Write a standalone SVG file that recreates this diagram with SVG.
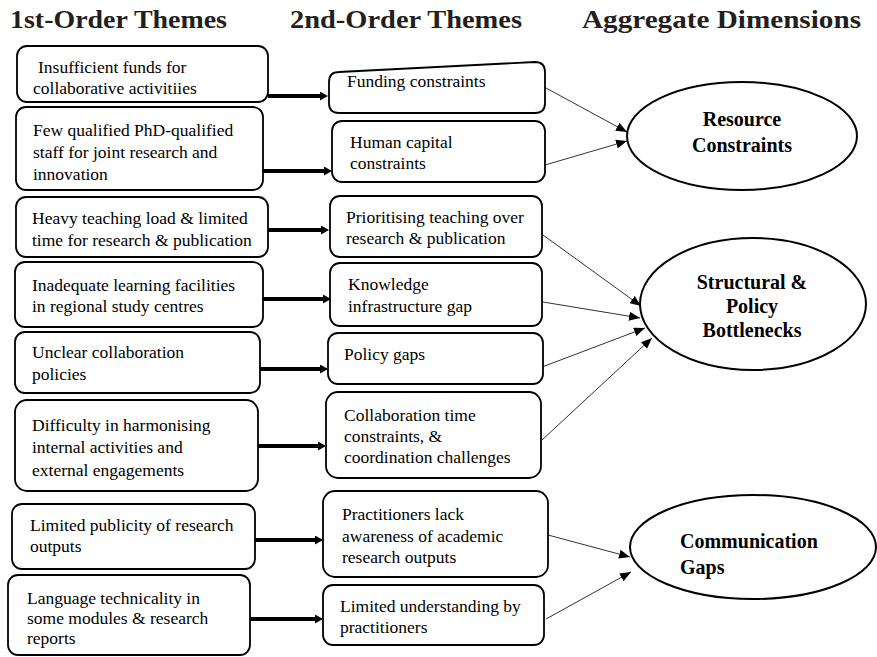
<svg xmlns="http://www.w3.org/2000/svg" width="877" height="657" viewBox="0 0 877 657">
<defs>
<style>
.hdr{font-family:"Liberation Serif","Times New Roman",serif;font-weight:bold;font-size:25px;fill:#231f20}
.t{font-family:"Liberation Serif","Times New Roman",serif;font-size:17.5px;fill:#000}
.dim{font-family:"Liberation Serif","Times New Roman",serif;font-weight:bold;font-size:20px;fill:#000}
.box{fill:#fff;stroke:#000;stroke-width:1.8}
.ell{fill:#fff;stroke:#000;stroke-width:2}
.thick{stroke:#000;stroke-width:4;fill:none}
.thin{stroke:#333;stroke-width:1;fill:none}
</style>
<marker id="ahThick" markerUnits="userSpaceOnUse" markerWidth="8" markerHeight="9" refX="0" refY="4.5" orient="auto">
<path d="M0,0 L8,4.5 L0,9 z" fill="#000"/>
</marker>
<marker id="ahThin" markerUnits="userSpaceOnUse" markerWidth="11" markerHeight="9" refX="11" refY="4.5" orient="auto">
<path d="M0,0 L11,4.5 L0,9 z" fill="#000"/>
</marker>
</defs>
<rect width="877" height="657" fill="#fff"/>

<g id="headers">
<text class="hdr" x="10" y="28" textLength="217" lengthAdjust="spacingAndGlyphs">1st-Order Themes</text>
<text class="hdr" x="290" y="28" textLength="232" lengthAdjust="spacingAndGlyphs">2nd-Order Themes</text>
<text class="hdr" x="582" y="28" textLength="279" lengthAdjust="spacingAndGlyphs">Aggregate Dimensions</text>
</g>

<g id="connectors">
<line class="thick" x1="268" y1="96" x2="320" y2="96" marker-end="url(#ahThick)"/>
<line class="thick" x1="263" y1="171" x2="324" y2="171" marker-end="url(#ahThick)"/>
<line class="thick" x1="268" y1="230" x2="321" y2="230" marker-end="url(#ahThick)"/>
<line class="thick" x1="263" y1="299" x2="323" y2="299" marker-end="url(#ahThick)"/>
<line class="thick" x1="260" y1="369" x2="320" y2="369" marker-end="url(#ahThick)"/>
<line class="thick" x1="258" y1="446" x2="318" y2="446" marker-end="url(#ahThick)"/>
<line class="thick" x1="255" y1="540" x2="315" y2="540" marker-end="url(#ahThick)"/>
<line class="thick" x1="250" y1="619" x2="315" y2="619" marker-end="url(#ahThick)"/>

<line class="thin" x1="546" y1="88" x2="627" y2="132" marker-end="url(#ahThin)"/>
<line class="thin" x1="545" y1="165" x2="627" y2="141" marker-end="url(#ahThin)"/>
<line class="thin" x1="543" y1="235" x2="641" y2="306" marker-end="url(#ahThin)"/>
<line class="thin" x1="543" y1="302" x2="640" y2="318" marker-end="url(#ahThin)"/>
<line class="thin" x1="542" y1="367" x2="645" y2="328" marker-end="url(#ahThin)"/>
<line class="thin" x1="542" y1="440" x2="652" y2="338" marker-end="url(#ahThin)"/>
<line class="thin" x1="548" y1="535" x2="630" y2="557" marker-end="url(#ahThin)"/>
<line class="thin" x1="546" y1="619" x2="631" y2="572" marker-end="url(#ahThin)"/>
</g>

<g id="first-1">
<rect class="box" x="17" y="46" width="251" height="56" rx="10"/>
<text class="t" x="38" y="73">Insufficient funds for</text>
<text class="t" x="33" y="94">collaborative activitiies</text>
</g>
<g id="first-2">
<rect class="box" x="16" y="107" width="247" height="83" rx="10"/>
<text class="t" x="33" y="136">Few qualified PhD-qualified</text>
<text class="t" x="33" y="158">staff for joint research and</text>
<text class="t" x="33" y="180">innovation</text>
</g>
<g id="first-3">
<rect class="box" x="16" y="197" width="252" height="60" rx="10"/>
<text class="t" x="32" y="224">Heavy teaching load &amp; limited</text>
<text class="t" x="32" y="246">time for research &amp; publication</text>
</g>
<g id="first-4">
<rect class="box" x="15" y="262" width="248" height="65" rx="10"/>
<text class="t" x="32" y="291">Inadequate learning facilities</text>
<text class="t" x="32" y="312">in regional study centres</text>
</g>
<g id="first-5">
<rect class="box" x="15" y="332" width="245" height="61" rx="10"/>
<text class="t" x="32" y="358">Unclear collaboration</text>
<text class="t" x="32" y="380">policies</text>
</g>
<g id="first-6">
<rect class="box" x="15" y="400" width="243" height="91" rx="12"/>
<text class="t" x="32" y="431">Difficulty in harmonising</text>
<text class="t" x="32" y="453">internal activities and</text>
<text class="t" x="32" y="476">external engagements</text>
</g>
<g id="first-7">
<rect class="box" x="12" y="504" width="243" height="65" rx="10"/>
<text class="t" x="30" y="531">Limited publicity of research</text>
<text class="t" x="30" y="552">outputs</text>
</g>
<g id="first-8">
<rect class="box" x="8" y="575" width="242" height="80" rx="10"/>
<text class="t" x="27" y="604">Language technicality in</text>
<text class="t" x="27" y="624">some modules &amp; research</text>
<text class="t" x="27" y="644">reports</text>
</g>

<g id="second-1">
<path class="box" d="M339,72 L535,62 Q545,62 545,72 L545,103 Q545,113 535,113 L339,113 Q329,113 329,103 L329,82 Q329,72 339,72 Z"/>
<text class="t" x="347" y="87">Funding constraints</text>
</g>
<g id="second-2">
<rect class="box" x="332" y="121" width="213" height="61" rx="10"/>
<text class="t" x="350" y="148">Human capital</text>
<text class="t" x="350" y="169">constraints</text>
</g>
<g id="second-3">
<rect class="box" x="330" y="196" width="212" height="61" rx="10"/>
<text class="t" x="346" y="223">Prioritising teaching over</text>
<text class="t" x="346" y="244">research &amp; publication</text>
</g>
<g id="second-4">
<rect class="box" x="330" y="263" width="212" height="63" rx="10"/>
<text class="t" x="348" y="290">Knowledge</text>
<text class="t" x="348" y="312">infrastructure gap</text>
</g>
<g id="second-5">
<rect class="box" x="328" y="333" width="215" height="51" rx="10"/>
<text class="t" x="344" y="360">Policy gaps</text>
</g>
<g id="second-6">
<rect class="box" x="326" y="392" width="215" height="86" rx="12"/>
<text class="t" x="344" y="421">Collaboration time</text>
<text class="t" x="344" y="442">constraints, &amp;</text>
<text class="t" x="344" y="463">coordination challenges</text>
</g>
<g id="second-7">
<rect class="box" x="323" y="491" width="225" height="86" rx="12"/>
<text class="t" x="342" y="520">Practitioners lack</text>
<text class="t" x="342" y="542">awareness of academic</text>
<text class="t" x="342" y="563">research outputs</text>
</g>
<g id="second-8">
<rect class="box" x="323" y="585" width="221" height="60" rx="10"/>
<text class="t" x="340" y="612">Limited understanding by</text>
<text class="t" x="340" y="633">practitioners</text>
</g>

<g id="dim-resource">
<ellipse class="ell" cx="742" cy="136" rx="115" ry="54"/>
<text class="dim" x="742" y="126" text-anchor="middle">Resource</text>
<text class="dim" x="742" y="152" text-anchor="middle">Constraints</text>
</g>
<g id="dim-structural">
<ellipse class="ell" cx="753" cy="304" rx="113" ry="66"/>
<text class="dim" x="752" y="289" text-anchor="middle">Structural &amp;</text>
<text class="dim" x="752" y="313" text-anchor="middle">Policy</text>
<text class="dim" x="752" y="337" text-anchor="middle">Bottlenecks</text>
</g>
<g id="dim-communication">
<ellipse class="ell" cx="753" cy="547" rx="123" ry="52"/>
<text class="dim" x="680" y="548">Communication</text>
<text class="dim" x="680" y="574">Gaps</text>
</g>
</svg>
